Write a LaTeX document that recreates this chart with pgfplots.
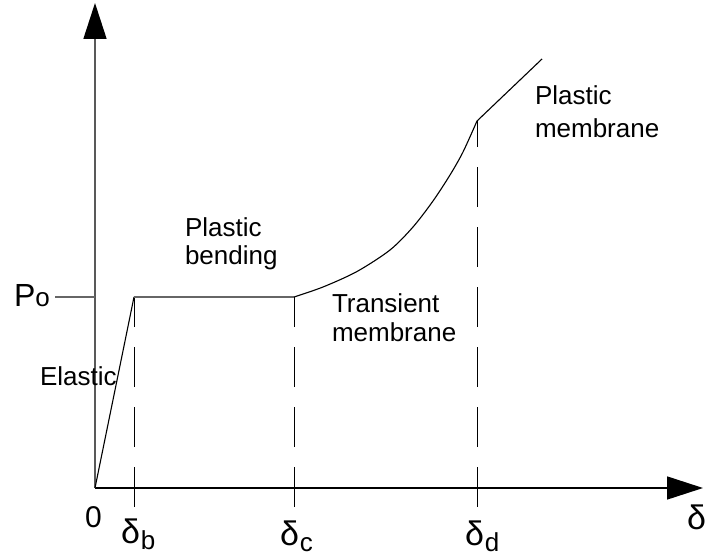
\documentclass[border=0pt]{standalone}
\usepackage{pgfplots}
\pgfplotsset{compat=1.18}
\usetikzlibrary{arrows.meta}
\usepackage{fontspec}
\setmainfont{Liberation Sans}
\newcommand{\lbl}{\fontsize{26bp}{30bp}\selectfont}
\newcommand{\dl}[1]{{\fontsize{34bp}{38bp}\selectfont δ}\kern1bp\raisebox{-6bp}{\lbl #1}}
\tikzset{lab/.style={inner sep=0pt, outer sep=0pt, anchor=base west}}
\begin{document}
\begin{tikzpicture}
\begin{axis}[
  scale only axis, width=706bp, height=555bp,
  xmin=-95, xmax=611, ymin=-67, ymax=488,
  hide axis, clip=false,
]
% frame of the drawing
\addplot[draw=none] coordinates {(-95,-67) (611,488)};

% axes
\addplot[black, line width=1.6bp, -{Triangle[length=36bp,width=23bp,black]}] coordinates {(0,0) (608,0)};
\addplot[black!65, line width=1.6bp, -{Triangle[length=36bp,width=23bp,black]}] coordinates {(0,0) (0,485)};

% yield load level
\addplot[black!60, line width=1.6bp] coordinates {(-40,191) (0,191)};

% dashed guides at the characteristic deflections
\addplot[black, line width=1bp, dash pattern=on 40bp off 20bp] coordinates {(39,-19) (39,191)};
\addplot[black, line width=1bp, dash pattern=on 40bp off 20bp] coordinates {(199,-19) (199,191)};
\addplot[black, line width=1bp, dash pattern=on 40bp off 20bp] coordinates {(382,-19) (382,367)};

% load-deflection response
\addplot[black, line width=1.1bp] coordinates {(0,0) (39,191)};
\addplot[black!60, line width=1.6bp] coordinates {(39,191) (199,191)};
\addplot[black, line width=1.1bp, smooth] coordinates {
  (199,191) (228,201) (262,216.5) (295,238) (318,261) (338,287)
  (355,313) (368,336) (382,367)};
\addplot[black, line width=1.1bp] coordinates {(382,367) (447,429)};

% labels
\node[lab] at (axis cs:-81,181) {\fontsize{32bp}{36bp}\selectfont P\lbl o};
\node[lab] at (axis cs:-10,-39) {\fontsize{30bp}{34bp}\selectfont 0};
\node[lab] at (axis cs:26,-55) {\dl{b}};
\node[lab] at (axis cs:185,-57) {\dl{c}};
\node[lab] at (axis cs:370,-57) {\dl{d}};
\node[lab] at (axis cs:592,-41) {\fontsize{34bp}{38bp}\selectfont δ};

\node[lab] at (axis cs:-55,102) {\lbl Elastic};
\node[lab] at (axis cs:90,251) {\lbl Plastic};
\node[lab] at (axis cs:90,223) {\lbl bending};
\node[lab] at (axis cs:237,175) {\lbl Transient};
\node[lab] at (axis cs:237,146) {\lbl membrane};
\node[lab] at (axis cs:440,383) {\lbl Plastic};
\node[lab] at (axis cs:440,350) {\lbl membrane};
\end{axis}
\end{tikzpicture}
\end{document}
